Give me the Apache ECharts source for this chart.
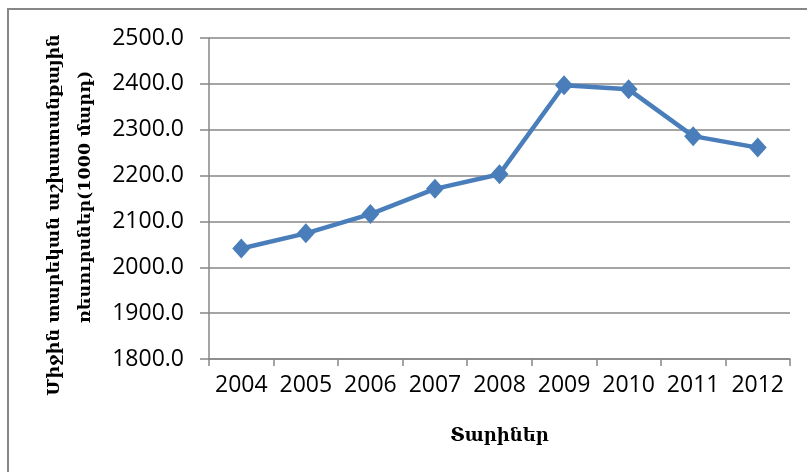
<!DOCTYPE html>
<html>
<head>
<meta charset="utf-8">
<script src="https://cdn.jsdelivr.net/npm/echarts@6/dist/echarts.min.js"></script>
<style>
  html, body { margin: 0; padding: 0; background: #fff; }
  #chart { width: 807px; height: 472px; }
</style>
</head>
<body>
<div id="chart"></div>
<script>
// data
const years = ['2004', '2005', '2006', '2007', '2008', '2009', '2010', '2011', '2012']
const workforce = [2041, 2074, 2116, 2171, 2203, 2397, 2388, 2286, 2261]
const yTitleLines = ['Միջին տարեկան աշխատանքային', 'ռեսուրսներ(1000 մարդ)']
const xTitle = 'Տարիներ'

const gray = '#878787'
const armFont = '"DejaVu Serif", serif'

const chart = echarts.init(document.getElementById('chart'))
chart.setOption({
  animation: false,
  grid: { left: 209, top: 38, right: 17, bottom: 113 },
  xAxis: {
    type: 'category',
    data: years,
    boundaryGap: true,
    axisLine: { lineStyle: { color: gray, width: 1.5 } },
    axisTick: { show: true, interval: 0, length: 7, lineStyle: { color: gray, width: 1.5 } },
    axisLabel: { interval: 0, color: '#000', fontFamily: '"Open Sans"', fontSize: 23, margin: 15 },
    name: xTitle,
    nameLocation: 'middle',
    nameGap: 68,
    nameTextStyle: { color: '#000', fontFamily: armFont, fontWeight: 'bold', fontSize: 18 }
  },
  yAxis: {
    type: 'value',
    min: 1800,
    max: 2500,
    interval: 100,
    axisLine: { show: true, lineStyle: { color: gray, width: 1.5 } },
    axisTick: { show: true, length: 9, lineStyle: { color: gray, width: 1.5 } },
    splitLine: { lineStyle: { color: gray, width: 1.5 } },
    axisLabel: {
      color: '#000', fontFamily: '"Open Sans"', fontSize: 23, margin: 25,
      formatter: (v) => v.toFixed(1)
    }
  },
  graphic: [
    {
      type: 'rect', silent: true,
      shape: { x: 8, y: 9, width: 900, height: 600 },
      style: { fill: null, stroke: gray, lineWidth: 2 }
    },
    {
      type: 'text', x: 54, y: 215, rotation: Math.PI / 2,
      style: { text: yTitleLines[0], font: 'bold 17.5px ' + armFont, fill: '#000', align: 'center', verticalAlign: 'middle' }
    },
    {
      type: 'text', x: 85, y: 197, rotation: Math.PI / 2,
      style: { text: yTitleLines[1], font: 'bold 17.5px ' + armFont, fill: '#000', align: 'center', verticalAlign: 'middle' }
    }
  ],
  series: [{
    type: 'line',
    data: workforce,
    symbol: 'diamond',
    symbolSize: [18, 20],
    lineStyle: { color: '#4A7EBB', width: 4.5 },
    itemStyle: { color: '#4A7EBB' }
  }]
})
</script>
</body>
</html>
